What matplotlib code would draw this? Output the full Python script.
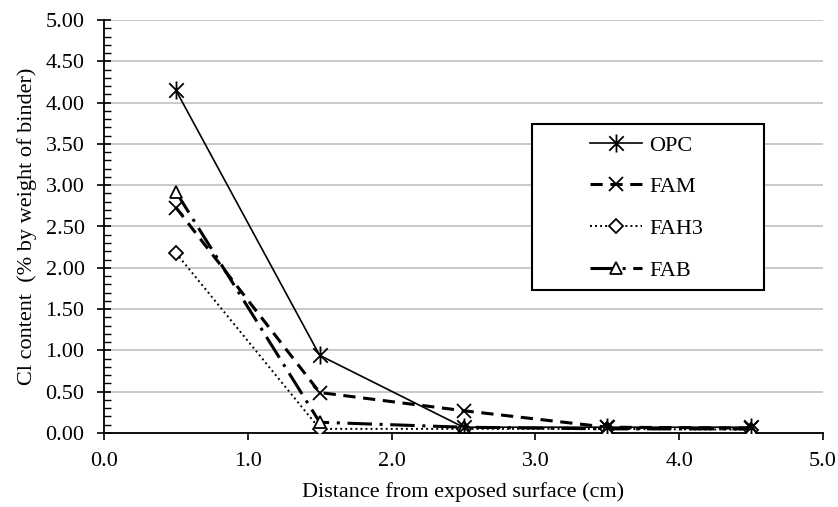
import matplotlib
matplotlib.use("Agg")
import matplotlib.pyplot as plt
from matplotlib.path import Path
from matplotlib.patches import Rectangle
from matplotlib.ticker import MultipleLocator, FormatStrFormatter

distance = [0.5, 1.5, 2.5, 3.5, 4.5]
opc = [4.15, 0.94, 0.07, 0.07, 0.07]
fam = [2.73, 0.49, 0.27, 0.07, 0.06]
fah3 = [2.18, 0.05, 0.05, 0.05, 0.04]
fab = [2.92, 0.13, 0.07, 0.05, 0.05]
series_names = ["OPC", "FAM", "FAH3", "FAB"]

plt.rcParams['font.family'] = ['Liberation Serif', 'DejaVu Serif']

fig = plt.figure(figsize=(8.38, 5.07), dpi=100)
ax = fig.add_axes([104/838, (507-433)/507, (823-104)/838, (433-20)/507])

star = Path([(0, -1), (0, 1), (-0.8, -0.8), (0.8, 0.8), (-0.8, 0.8), (0.8, -0.8)],
            [Path.MOVETO, Path.LINETO, Path.MOVETO, Path.LINETO, Path.MOVETO, Path.LINETO])

ax.plot(distance, opc, color='black', lw=1.2, ls='-', marker=star, ms=13,
        mew=1.3, label=series_names[0], zorder=4)
ax.plot(distance, fam, color='black', lw=2.2, ls=(0, (4, 2.5)), marker='x', ms=10,
        mew=1.3, label=series_names[1], zorder=3)
ax.plot(distance, fah3, color='black', lw=1.4, ls=(0, (1, 1.6)), marker='D', ms=7,
        mfc='white', mec='black', mew=1.3, label=series_names[2], zorder=3)
ax.plot(distance, fab, color='black', lw=2.2, ls=(0, (8, 2.5, 1, 2.5)), marker='^', ms=9,
        mfc='white', mec='black', mew=1.3, label=series_names[3], zorder=3)

ax.set_xlim(0, 5)
ax.set_ylim(0, 5)
ax.xaxis.set_major_locator(MultipleLocator(1))
ax.yaxis.set_major_locator(MultipleLocator(0.5))
ax.yaxis.set_minor_locator(MultipleLocator(0.1))
ax.xaxis.set_major_formatter(FormatStrFormatter('%.1f'))
ax.yaxis.set_major_formatter(FormatStrFormatter('%.2f'))

ax.grid(axis='y', which='major', color='#c0c0c0', lw=1.2, zorder=0)
ax.set_axisbelow(True)
for s in ['top', 'right']:
    ax.spines[s].set_visible(False)
for s in ['left', 'bottom']:
    ax.spines[s].set_linewidth(1.3)
    ax.spines[s].set_color('black')

ax.tick_params(axis='y', which='major', direction='inout', length=10, width=1.2, labelsize=16, pad=9)
ax.tick_params(axis='y', which='minor', direction='in', length=5, width=1.0)
ax.tick_params(axis='x', which='major', direction='out', length=5, width=1.2, labelsize=16, pad=9)

ax.set_xlabel("Distance from exposed surface (cm)", fontsize=16, labelpad=8)
ax.set_ylabel("Cl content  (% by weight of binder)", fontsize=16, labelpad=6)

# legend frame
x0, x1 = (532-104)/719, (764-104)/719
y0, y1 = (433-290)/413, (433-124)/413
ax.add_patch(Rectangle((x0, y0), x1-x0, y1-y0, transform=ax.transAxes,
                       facecolor='white', edgecolor='black', lw=1.5, zorder=5,
                       clip_on=False))

leg = ax.legend(loc='upper left', bbox_to_anchor=((590-104)/719, (433-135)/413), fontsize=16,
                frameon=False, handlelength=2.35, labelspacing=0.95, borderpad=0,
                handletextpad=0.3, borderaxespad=0)
leg.set_zorder(6)

fig.savefig("out.png", dpi=100)
